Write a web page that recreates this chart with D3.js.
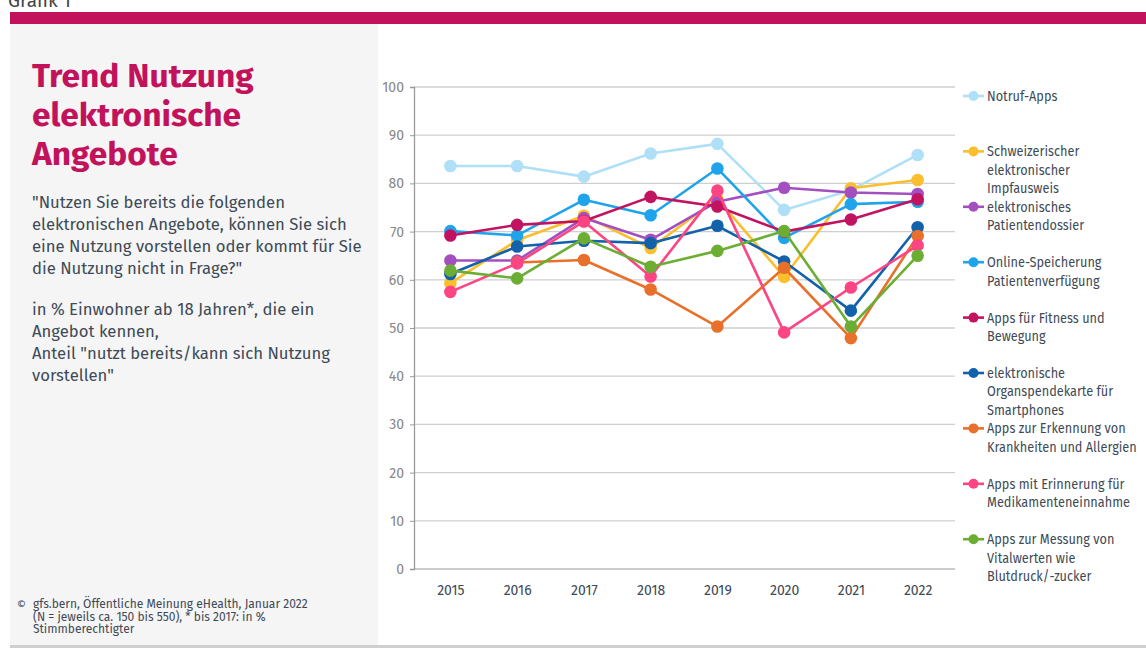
<!DOCTYPE html>
<html><head><meta charset="utf-8">
<script src="https://cdn.jsdelivr.net/npm/d3@7"></script>
<style>
html,body{margin:0;padding:0;background:#fff;}
svg{display:block;}
</style></head>
<body>
<svg id="c" width="1146" height="648"></svg>
<script>
const years = ["2015","2016","2017","2018","2019","2020","2021","2022"];
const seriesNames = [
  ["Notruf-Apps"],
  ["Schweizerischer","elektronischer","Impfausweis"],
  ["elektronisches","Patientendossier"],
  ["Online-Speicherung","Patientenverfügung"],
  ["Apps für Fitness und","Bewegung"],
  ["elektronische","Organspendekarte für","Smartphones"],
  ["Apps zur Erkennung von","Krankheiten und Allergien"],
  ["Apps mit Erinnerung für","Medikamenteneinnahme"],
  ["Apps zur Messung von","Vitalwerten wie","Blutdruck/-zucker"]
];
const seriesColors = ["#afe0f8","#fbbf2e","#a44fc0","#1fa3ea","#c21360","#1261ab","#e8702a","#fd4584","#6cae34"];
const notruf      = [83.6, 83.6, 81.4, 86.2, 88.2, 74.5, 78.6, 85.9];
const impfausweis = [59.3, 68.2, 73.3, 66.6, 76.8, 60.6, 79.0, 80.7];
const dossier     = [64.0, 64.0, 72.8, 68.3, 76.2, 79.1, 78.1, 77.8];
const verfuegung  = [70.1, 69.2, 76.6, 73.4, 83.1, 68.7, 75.7, 76.2];
const fitness     = [69.2, 71.4, 72.2, 77.2, 75.2, 70.0, 72.5, 76.7];
const organspende = [61.2, 66.9, 68.1, 67.6, 71.2, 63.8, 53.6, 70.9];
const erkennung   = [null, 63.6, 64.1, 58.0, 50.3, 62.5, 47.9, 69.1];
const erinnerung  = [57.5, 63.4, 72.1, 60.7, 78.5, 49.1, 58.4, 67.1];
const vitalwerte  = [61.9, 60.3, 68.6, 62.7, 66.0, 70.1, 50.3, 65.0];
const seriesValues = [notruf, impfausweis, dossier, verfuegung, fitness, organspende, erkennung, erinnerung, vitalwerte];
const yTicks = [0,10,20,30,40,50,60,70,80,90,100];

const svg = d3.select("#c");
const magenta = "#c2125b";
const textCol = "#3e4a55";
const font = "'Fira Sans', Lato, 'Open Sans', sans-serif";

// Header label (cut off at top as in the original)
svg.append("text").attr("x", 8).attr("y", 7).attr("font-family", font).attr("font-size", 19)
  .attr("fill", "#444").text("Grafik 1");
// magenta bar
svg.append("rect").attr("x", 10).attr("y", 12).attr("width", 1136).attr("height", 12).attr("fill", magenta);
// left panel
svg.append("rect").attr("x", 10).attr("y", 24).attr("width", 368).attr("height", 621).attr("fill", "#f5f5f5");
// bottom grey strip
svg.append("rect").attr("x", 10).attr("y", 645).attr("width", 1136).attr("height", 3).attr("fill", "#cfcfcf");

// Title
const titleLines = ["Trend Nutzung","elektronische","Angebote"];
svg.append("g").selectAll("text").data(titleLines).join("text")
  .attr("x", 32).attr("y", (d,i) => 87 + i*39)
  .attr("font-family", font).attr("font-weight", 700).attr("font-size", 33.5)
  .attr("fill", magenta).text(d => d);

const bodyLines = ["\"Nutzen Sie bereits die folgenden","elektronischen Angebote, können Sie sich","eine Nutzung vorstellen oder kommt für Sie","die Nutzung nicht in Frage?\""];
svg.append("g").selectAll("text").data(bodyLines).join("text")
  .attr("x", 32).attr("y", (d,i) => 208 + i*22)
  .attr("font-family", font).attr("font-size", 16.7).attr("fill", textCol).text(d => d);
const body2 = ["in % Einwohner ab 18 Jahren*, die ein","Angebot kennen,","Anteil \"nutzt bereits/kann sich Nutzung","vorstellen\""];
svg.append("g").selectAll("text").data(body2).join("text")
  .attr("x", 32).attr("y", (d,i) => 315 + i*22)
  .attr("font-family", font).attr("font-size", 16.7).attr("fill", textCol).text(d => d);

// Footer
svg.append("text").attr("x", 17).attr("y", 608).attr("font-family", font).attr("font-size", 11)
  .attr("fill", textCol).text("©");
const foot = ["gfs.bern, Öffentliche Meinung eHealth, Januar 2022","(N = jeweils ca. 150 bis 550), * bis 2017: in %","Stimmberechtigter"];
svg.append("g").selectAll("text").data(foot).join("text")
  .attr("x", 33).attr("y", (d,i) => 608 + i*12.5)
  .attr("font-family", font).attr("font-size", 12).attr("fill", textCol).text(d => d);

// Chart
const x = d3.scalePoint().domain(years).range([417, 951]).padding(0.5);
const y = d3.scaleLinear().domain([0,100]).range([569, 87]);

// grid lines
svg.append("g").selectAll("line").data(yTicks).join("line")
  .attr("x1", 414).attr("x2", 955).attr("y1", d => y(d)).attr("y2", d => y(d))
  .attr("stroke", d => d === 0 ? "#bbb" : "#cfcfcf").attr("stroke-width", 1.3);

const gy = svg.append("g").attr("transform", "translate(414,0)")
  .call(d3.axisLeft(y).tickValues(yTicks).tickSize(4).tickPadding(6));
gy.select(".domain").attr("stroke", "#9a9a9a").attr("stroke-width", 1.3);
gy.selectAll(".tick line").attr("stroke", "#9a9a9a");
gy.selectAll(".tick text").attr("font-family", font).attr("font-size", 14).attr("fill", "#888");

const gx = svg.append("g").attr("transform", "translate(0,569)")
  .call(d3.axisBottom(x).tickSize(0).tickPadding(16));
gx.select(".domain").remove();
gx.selectAll(".tick text").attr("font-family", font).attr("font-size", 14).attr("fill", textCol);

const line = d3.line().defined(d => d.v != null).x(d => x(d.yr)).y(d => y(d.v));
seriesValues.forEach((vals, si) => {
  const pts = vals.map((v,i) => ({yr: years[i], v}));
  const g = svg.append("g");
  g.append("path").datum(pts).attr("d", line).attr("fill", "none")
    .attr("stroke", seriesColors[si]).attr("stroke-width", 2.6).attr("stroke-linejoin", "round");
  g.selectAll("circle").data(pts.filter(d => d.v != null)).join("circle")
    .attr("cx", d => x(d.yr)).attr("cy", d => y(d.v)).attr("r", 6.3).attr("fill", seriesColors[si]);
});

// Legend
const lg = svg.append("g");
seriesNames.forEach((lines, i) => {
  const yy = 96 + i*55.4;
  const g = lg.append("g");
  g.append("line").attr("x1", 963).attr("x2", 984).attr("y1", yy).attr("y2", yy)
    .attr("stroke", seriesColors[i]).attr("stroke-width", 2.6);
  g.append("circle").attr("cx", 973.5).attr("cy", yy).attr("r", 5).attr("fill", seriesColors[i]);
  const tg = g.append("g").attr("transform", `translate(987,${yy + 5}) scale(0.86,1)`);
  tg.selectAll("text").data(lines).join("text")
    .attr("x", 0).attr("y", (d,j) => j*18.5)
    .attr("font-family", font).attr("font-size", 14.8).attr("fill", textCol).text(d => d);
});
</script>
</body></html>
